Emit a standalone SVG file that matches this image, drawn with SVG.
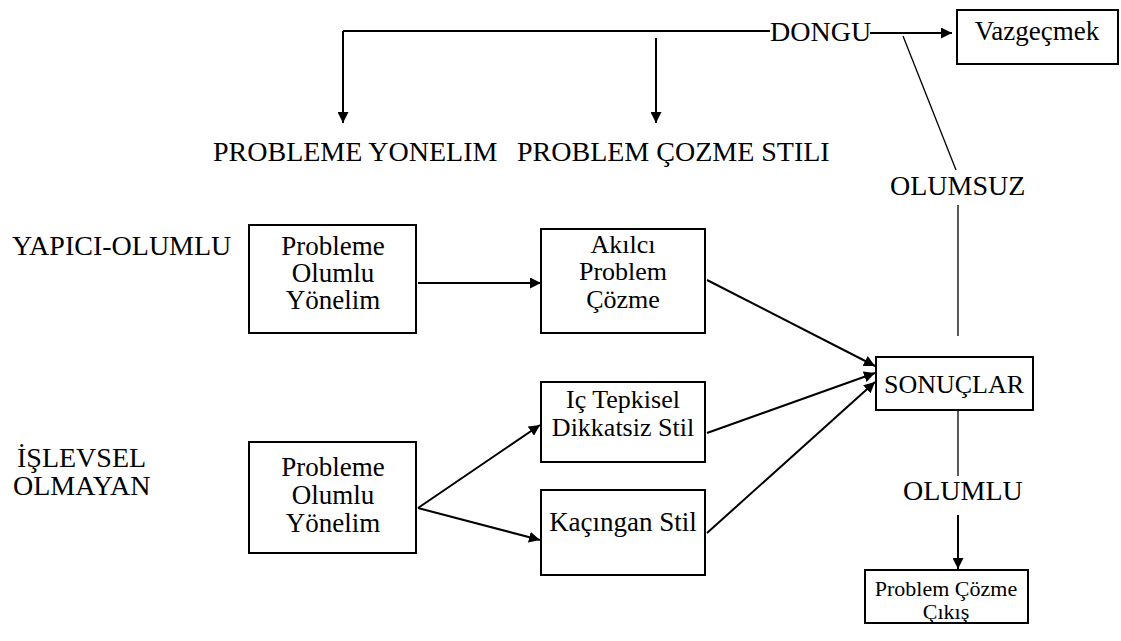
<svg xmlns="http://www.w3.org/2000/svg" width="1121" height="641" viewBox="0 0 1121 641">
<defs>
<marker id="ah" viewBox="0 0 10 10" refX="10" refY="5" markerWidth="11" markerHeight="11" markerUnits="userSpaceOnUse" orient="auto">
<path d="M0,0 L10,5 L0,10 z" fill="#000"/>
</marker>
<style>
text{font-family:'Liberation Serif','DejaVu Serif',serif;font-size:27px;fill:#000}
.c{text-anchor:middle}
.lb{font-size:28px}
.s{font-size:22px}
.m{font-size:26px}
.box{fill:#fff;stroke:#000;stroke-width:2}
.ln{stroke:#000;stroke-width:2;fill:none}
.th{stroke:#000;stroke-width:1.3;fill:none}
.ar{stroke:#000;stroke-width:2;fill:none;marker-end:url(#ah)}
</style>
</defs>
<rect width="1121" height="641" fill="#fff"/>
<g id="connectors">
<line class="ln" x1="343" y1="31" x2="770" y2="31"/>
<line class="ar" x1="343" y1="31" x2="343" y2="123"/>
<line class="ar" x1="656" y1="38" x2="656" y2="123"/>
<line class="ar" x1="870" y1="33" x2="952" y2="33"/>
<line class="th" x1="903" y1="36" x2="956" y2="170"/>
<line class="th" x1="958" y1="205" x2="958" y2="336"/>
<line class="ar" x1="418" y1="283" x2="541" y2="283"/>
<line class="ar" x1="707" y1="280" x2="875" y2="366"/>
<line class="ar" x1="707" y1="433" x2="875" y2="373"/>
<line class="ar" x1="707" y1="533" x2="875" y2="382"/>
<line class="ar" x1="418" y1="508" x2="540" y2="425"/>
<line class="ar" x1="418" y1="508" x2="540" y2="540"/>
<line class="th" x1="958" y1="411" x2="958" y2="476"/>
<line class="ar" x1="958" y1="515" x2="958" y2="569"/>
</g>
<g id="labels">
<text class="lb" x="770" y="41">DONGU</text>
<text class="lb" x="213" y="161">PROBLEME YONELIM</text>
<text class="lb" x="517" y="161">PROBLEM ÇOZME STILI</text>
<text class="lb" x="890" y="195">OLUMSUZ</text>
<text class="lb" x="12" y="255">YAPICI-OLUMLU</text>
<text class="lb" x="17" y="467">İŞLEVSEL</text>
<text class="lb" x="13" y="495">OLMAYAN</text>
<text class="lb" x="903" y="500">OLUMLU</text>
</g>
<g id="vazgecmek">
<rect class="box" x="957" y="10" width="161" height="54"/>
<text class="c" x="1037" y="40">Vazgeçmek</text>
</g>
<g id="olumlu-yonelim-1">
<rect class="box" x="249" y="225" width="167" height="108"/>
<text class="c" x="333" y="255">Probleme</text>
<text class="c" x="333" y="282">Olumlu</text>
<text class="c" x="333" y="309">Yönelim</text>
</g>
<g id="akilci">
<rect class="box" x="541" y="229" width="164" height="104"/>
<text class="c m" x="623" y="253">Akılcı</text>
<text class="c m" x="623" y="280">Problem</text>
<text class="c m" x="623" y="308">Çözme</text>
</g>
<g id="sonuclar">
<rect class="box" x="876" y="357" width="157" height="53"/>
<text class="c m" x="954" y="393">SONUÇLAR</text>
</g>
<g id="ic-tepkisel">
<rect class="box" x="541" y="382" width="164" height="80"/>
<text class="c m" x="623" y="408">Iç Tepkisel</text>
<text class="c m" x="623" y="436">Dikkatsiz Stil</text>
</g>
<g id="kacingan">
<rect class="box" x="541" y="490" width="164" height="85"/>
<text class="c" x="623" y="531">Kaçıngan  Stil</text>
</g>
<g id="olumlu-yonelim-2">
<rect class="box" x="249" y="442" width="167" height="111"/>
<text class="c" x="333" y="476">Probleme</text>
<text class="c" x="333" y="504">Olumlu</text>
<text class="c" x="333" y="532">Yönelim</text>
</g>
<g id="cikis">
<rect class="box" x="865" y="570" width="163" height="53"/>
<text class="c s" x="946" y="596">Problem Çözme</text>
<text class="c s" x="946" y="619">Çıkış</text>
</g>
</svg>
